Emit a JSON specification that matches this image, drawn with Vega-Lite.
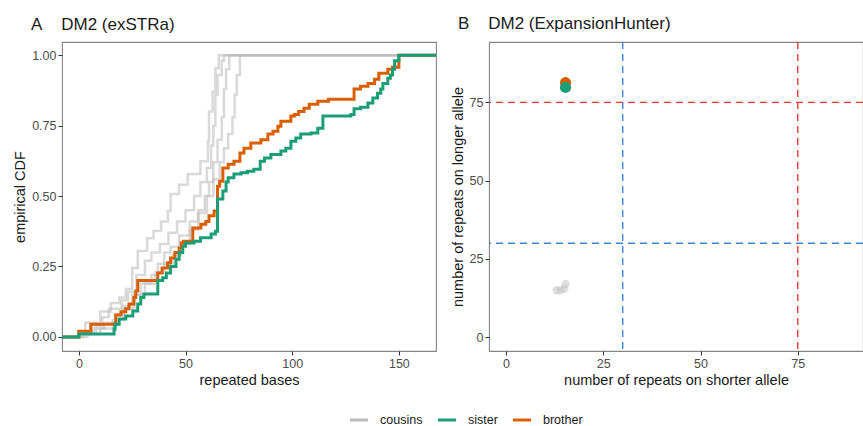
{
  "$schema": "https://vega.github.io/schema/vega-lite/v6.json",
  "background": "white",
  "padding": {"left": 12, "top": 14, "right": 0, "bottom": 0},
  "spacing": 12,
  "config": {
    "font": "Liberation Sans",
    "view": {"stroke": "#858585", "strokeWidth": 1.1},
    "axis": {"grid": false, "domain": false, "tickColor": "#333333", "tickSize": 4, "labelColor": "#4d4d4d", "labelFontSize": 12.5, "labelPadding": 2, "titleFontSize": 14.5, "titleFontWeight": "normal", "titleColor": "#1a1a1a", "titlePadding": 4},
    "title": {"fontSize": 17, "fontWeight": "normal", "anchor": "start", "frame": "group", "color": "#1a1a1a", "offset": 8},
    "legend": {"orient": "none", "legendX": 286, "legendY": 367, "direction": "horizontal", "gridAlign": "none", "labelFontSize": 12.5, "labelColor": "#1a1a1a", "symbolType": "stroke", "symbolStrokeWidth": 3, "symbolSize": 330, "labelOffset": 10, "columnPadding": 8, "symbolOpacity": 1}
  },
  "datasets": {
    "cdf": [
      {"who": "cousins", "id": "c1", "x": -7.9, "y": 0},
      {"who": "cousins", "id": "c1", "x": 0, "y": 0.02},
      {"who": "cousins", "id": "c1", "x": 3, "y": 0.05},
      {"who": "cousins", "id": "c1", "x": 10, "y": 0.09},
      {"who": "cousins", "id": "c1", "x": 15, "y": 0.12},
      {"who": "cousins", "id": "c1", "x": 19, "y": 0.14},
      {"who": "cousins", "id": "c1", "x": 22, "y": 0.17},
      {"who": "cousins", "id": "c1", "x": 25, "y": 0.245},
      {"who": "cousins", "id": "c1", "x": 27.6, "y": 0.305},
      {"who": "cousins", "id": "c1", "x": 32, "y": 0.35},
      {"who": "cousins", "id": "c1", "x": 35, "y": 0.376},
      {"who": "cousins", "id": "c1", "x": 38.5, "y": 0.41},
      {"who": "cousins", "id": "c1", "x": 41.7, "y": 0.447},
      {"who": "cousins", "id": "c1", "x": 43, "y": 0.507},
      {"who": "cousins", "id": "c1", "x": 47, "y": 0.54},
      {"who": "cousins", "id": "c1", "x": 51, "y": 0.578},
      {"who": "cousins", "id": "c1", "x": 57, "y": 0.624},
      {"who": "cousins", "id": "c1", "x": 60.5, "y": 0.695},
      {"who": "cousins", "id": "c1", "x": 61, "y": 0.8},
      {"who": "cousins", "id": "c1", "x": 62.7, "y": 0.87},
      {"who": "cousins", "id": "c1", "x": 64, "y": 0.954},
      {"who": "cousins", "id": "c1", "x": 65.6, "y": 1.0},
      {"who": "cousins", "id": "c1", "x": 167.4, "y": 1.0},
      {"who": "cousins", "id": "c2", "x": -7.9, "y": 0},
      {"who": "cousins", "id": "c2", "x": 0, "y": 0.02},
      {"who": "cousins", "id": "c2", "x": 8, "y": 0.04},
      {"who": "cousins", "id": "c2", "x": 11, "y": 0.07},
      {"who": "cousins", "id": "c2", "x": 14, "y": 0.1},
      {"who": "cousins", "id": "c2", "x": 20, "y": 0.13},
      {"who": "cousins", "id": "c2", "x": 23, "y": 0.16},
      {"who": "cousins", "id": "c2", "x": 27, "y": 0.22},
      {"who": "cousins", "id": "c2", "x": 31, "y": 0.27},
      {"who": "cousins", "id": "c2", "x": 34, "y": 0.3},
      {"who": "cousins", "id": "c2", "x": 38, "y": 0.33},
      {"who": "cousins", "id": "c2", "x": 42, "y": 0.37},
      {"who": "cousins", "id": "c2", "x": 46, "y": 0.41},
      {"who": "cousins", "id": "c2", "x": 50, "y": 0.45},
      {"who": "cousins", "id": "c2", "x": 54, "y": 0.5},
      {"who": "cousins", "id": "c2", "x": 57, "y": 0.55},
      {"who": "cousins", "id": "c2", "x": 60, "y": 0.6},
      {"who": "cousins", "id": "c2", "x": 62, "y": 0.68},
      {"who": "cousins", "id": "c2", "x": 63, "y": 0.75},
      {"who": "cousins", "id": "c2", "x": 64, "y": 0.86},
      {"who": "cousins", "id": "c2", "x": 65, "y": 0.93},
      {"who": "cousins", "id": "c2", "x": 67, "y": 0.98},
      {"who": "cousins", "id": "c2", "x": 68, "y": 1.0},
      {"who": "cousins", "id": "c2", "x": 167.4, "y": 1.0},
      {"who": "cousins", "id": "c3", "x": -7.9, "y": 0},
      {"who": "cousins", "id": "c3", "x": 2, "y": 0.01},
      {"who": "cousins", "id": "c3", "x": 6, "y": 0.03},
      {"who": "cousins", "id": "c3", "x": 12, "y": 0.05},
      {"who": "cousins", "id": "c3", "x": 17, "y": 0.08},
      {"who": "cousins", "id": "c3", "x": 21, "y": 0.11},
      {"who": "cousins", "id": "c3", "x": 25, "y": 0.15},
      {"who": "cousins", "id": "c3", "x": 29, "y": 0.19},
      {"who": "cousins", "id": "c3", "x": 34, "y": 0.22},
      {"who": "cousins", "id": "c3", "x": 37, "y": 0.26},
      {"who": "cousins", "id": "c3", "x": 40, "y": 0.3},
      {"who": "cousins", "id": "c3", "x": 43, "y": 0.32},
      {"who": "cousins", "id": "c3", "x": 47, "y": 0.36},
      {"who": "cousins", "id": "c3", "x": 52, "y": 0.41},
      {"who": "cousins", "id": "c3", "x": 56, "y": 0.45},
      {"who": "cousins", "id": "c3", "x": 59, "y": 0.5},
      {"who": "cousins", "id": "c3", "x": 61, "y": 0.55},
      {"who": "cousins", "id": "c3", "x": 63, "y": 0.62},
      {"who": "cousins", "id": "c3", "x": 65, "y": 0.7},
      {"who": "cousins", "id": "c3", "x": 67, "y": 0.78},
      {"who": "cousins", "id": "c3", "x": 68, "y": 0.88},
      {"who": "cousins", "id": "c3", "x": 69, "y": 0.95},
      {"who": "cousins", "id": "c3", "x": 70.5, "y": 1.0},
      {"who": "cousins", "id": "c3", "x": 167.4, "y": 1.0},
      {"who": "cousins", "id": "c4", "x": -7.9, "y": 0},
      {"who": "cousins", "id": "c4", "x": 4, "y": 0.01},
      {"who": "cousins", "id": "c4", "x": 10, "y": 0.03},
      {"who": "cousins", "id": "c4", "x": 16, "y": 0.06},
      {"who": "cousins", "id": "c4", "x": 21, "y": 0.1},
      {"who": "cousins", "id": "c4", "x": 26, "y": 0.15},
      {"who": "cousins", "id": "c4", "x": 31, "y": 0.19},
      {"who": "cousins", "id": "c4", "x": 36, "y": 0.23},
      {"who": "cousins", "id": "c4", "x": 40, "y": 0.26},
      {"who": "cousins", "id": "c4", "x": 44, "y": 0.29},
      {"who": "cousins", "id": "c4", "x": 48, "y": 0.33},
      {"who": "cousins", "id": "c4", "x": 52, "y": 0.38},
      {"who": "cousins", "id": "c4", "x": 56, "y": 0.44},
      {"who": "cousins", "id": "c4", "x": 60, "y": 0.5},
      {"who": "cousins", "id": "c4", "x": 63, "y": 0.56},
      {"who": "cousins", "id": "c4", "x": 66, "y": 0.62},
      {"who": "cousins", "id": "c4", "x": 68, "y": 0.67},
      {"who": "cousins", "id": "c4", "x": 70, "y": 0.72},
      {"who": "cousins", "id": "c4", "x": 72, "y": 0.78},
      {"who": "cousins", "id": "c4", "x": 73, "y": 0.86},
      {"who": "cousins", "id": "c4", "x": 74, "y": 0.93},
      {"who": "cousins", "id": "c4", "x": 75.5, "y": 1.0},
      {"who": "cousins", "id": "c4", "x": 167.4, "y": 1.0},
      {"who": "brother", "id": "b", "x": -7.9, "y": 0},
      {"who": "brother", "id": "b", "x": 0, "y": 0.02},
      {"who": "brother", "id": "b", "x": 5.6, "y": 0.045},
      {"who": "brother", "id": "b", "x": 17.3, "y": 0.078},
      {"who": "brother", "id": "b", "x": 19.7, "y": 0.089},
      {"who": "brother", "id": "b", "x": 22, "y": 0.1},
      {"who": "brother", "id": "b", "x": 23.5, "y": 0.117},
      {"who": "brother", "id": "b", "x": 25.8, "y": 0.14},
      {"who": "brother", "id": "b", "x": 26.7, "y": 0.163},
      {"who": "brother", "id": "b", "x": 27.6, "y": 0.2},
      {"who": "brother", "id": "b", "x": 37, "y": 0.227},
      {"who": "brother", "id": "b", "x": 39, "y": 0.245},
      {"who": "brother", "id": "b", "x": 41.6, "y": 0.263},
      {"who": "brother", "id": "b", "x": 43, "y": 0.28},
      {"who": "brother", "id": "b", "x": 45, "y": 0.3},
      {"who": "brother", "id": "b", "x": 47, "y": 0.316},
      {"who": "brother", "id": "b", "x": 48, "y": 0.333},
      {"who": "brother", "id": "b", "x": 49, "y": 0.34},
      {"who": "brother", "id": "b", "x": 53.4, "y": 0.387},
      {"who": "brother", "id": "b", "x": 57.2, "y": 0.4},
      {"who": "brother", "id": "b", "x": 59.5, "y": 0.41},
      {"who": "brother", "id": "b", "x": 61, "y": 0.43},
      {"who": "brother", "id": "b", "x": 63.4, "y": 0.447},
      {"who": "brother", "id": "b", "x": 65, "y": 0.535},
      {"who": "brother", "id": "b", "x": 66, "y": 0.553},
      {"who": "brother", "id": "b", "x": 67.5, "y": 0.6},
      {"who": "brother", "id": "b", "x": 70, "y": 0.613},
      {"who": "brother", "id": "b", "x": 72.7, "y": 0.624},
      {"who": "brother", "id": "b", "x": 75.5, "y": 0.653},
      {"who": "brother", "id": "b", "x": 77.4, "y": 0.67},
      {"who": "brother", "id": "b", "x": 80.6, "y": 0.688},
      {"who": "brother", "id": "b", "x": 85.3, "y": 0.7},
      {"who": "brother", "id": "b", "x": 88.6, "y": 0.72},
      {"who": "brother", "id": "b", "x": 91, "y": 0.73},
      {"who": "brother", "id": "b", "x": 93.3, "y": 0.748},
      {"who": "brother", "id": "b", "x": 94.7, "y": 0.766},
      {"who": "brother", "id": "b", "x": 99.4, "y": 0.784},
      {"who": "brother", "id": "b", "x": 101, "y": 0.79},
      {"who": "brother", "id": "b", "x": 103, "y": 0.8},
      {"who": "brother", "id": "b", "x": 105.5, "y": 0.812},
      {"who": "brother", "id": "b", "x": 108, "y": 0.826},
      {"who": "brother", "id": "b", "x": 112, "y": 0.837},
      {"who": "brother", "id": "b", "x": 117, "y": 0.844},
      {"who": "brother", "id": "b", "x": 129, "y": 0.88},
      {"who": "brother", "id": "b", "x": 132, "y": 0.89},
      {"who": "brother", "id": "b", "x": 135.5, "y": 0.9},
      {"who": "brother", "id": "b", "x": 138.6, "y": 0.915},
      {"who": "brother", "id": "b", "x": 140.6, "y": 0.936},
      {"who": "brother", "id": "b", "x": 144.8, "y": 0.95},
      {"who": "brother", "id": "b", "x": 147, "y": 0.957},
      {"who": "brother", "id": "b", "x": 150, "y": 1.0},
      {"who": "brother", "id": "b", "x": 167.4, "y": 1.0},
      {"who": "sister", "id": "s", "x": -7.9, "y": 0},
      {"who": "sister", "id": "s", "x": 0, "y": 0.01},
      {"who": "sister", "id": "s", "x": 16.5, "y": 0.028},
      {"who": "sister", "id": "s", "x": 17, "y": 0.045},
      {"who": "sister", "id": "s", "x": 18.9, "y": 0.064},
      {"who": "sister", "id": "s", "x": 22, "y": 0.074},
      {"who": "sister", "id": "s", "x": 25.3, "y": 0.092},
      {"who": "sister", "id": "s", "x": 27.6, "y": 0.117},
      {"who": "sister", "id": "s", "x": 29, "y": 0.14},
      {"who": "sister", "id": "s", "x": 30.5, "y": 0.152},
      {"who": "sister", "id": "s", "x": 37, "y": 0.2},
      {"who": "sister", "id": "s", "x": 39.3, "y": 0.21},
      {"who": "sister", "id": "s", "x": 41, "y": 0.227},
      {"who": "sister", "id": "s", "x": 43, "y": 0.25},
      {"who": "sister", "id": "s", "x": 45.5, "y": 0.276},
      {"who": "sister", "id": "s", "x": 47, "y": 0.3},
      {"who": "sister", "id": "s", "x": 48.7, "y": 0.322},
      {"who": "sister", "id": "s", "x": 50, "y": 0.333},
      {"who": "sister", "id": "s", "x": 54, "y": 0.34},
      {"who": "sister", "id": "s", "x": 57, "y": 0.352},
      {"who": "sister", "id": "s", "x": 62, "y": 0.365},
      {"who": "sister", "id": "s", "x": 64, "y": 0.375},
      {"who": "sister", "id": "s", "x": 65, "y": 0.49},
      {"who": "sister", "id": "s", "x": 67.5, "y": 0.518},
      {"who": "sister", "id": "s", "x": 69, "y": 0.55},
      {"who": "sister", "id": "s", "x": 70, "y": 0.565},
      {"who": "sister", "id": "s", "x": 72.7, "y": 0.578},
      {"who": "sister", "id": "s", "x": 76, "y": 0.583},
      {"who": "sister", "id": "s", "x": 79, "y": 0.588},
      {"who": "sister", "id": "s", "x": 82, "y": 0.595},
      {"who": "sister", "id": "s", "x": 85, "y": 0.624},
      {"who": "sister", "id": "s", "x": 87, "y": 0.635},
      {"who": "sister", "id": "s", "x": 90, "y": 0.648},
      {"who": "sister", "id": "s", "x": 94.7, "y": 0.66},
      {"who": "sister", "id": "s", "x": 97, "y": 0.67},
      {"who": "sister", "id": "s", "x": 99.4, "y": 0.695},
      {"who": "sister", "id": "s", "x": 101.7, "y": 0.706},
      {"who": "sister", "id": "s", "x": 104, "y": 0.72},
      {"who": "sister", "id": "s", "x": 108.8, "y": 0.724},
      {"who": "sister", "id": "s", "x": 112, "y": 0.741},
      {"who": "sister", "id": "s", "x": 114.4, "y": 0.784},
      {"who": "sister", "id": "s", "x": 127.5, "y": 0.79},
      {"who": "sister", "id": "s", "x": 129, "y": 0.81},
      {"who": "sister", "id": "s", "x": 132, "y": 0.815},
      {"who": "sister", "id": "s", "x": 135.5, "y": 0.83},
      {"who": "sister", "id": "s", "x": 137.8, "y": 0.848},
      {"who": "sister", "id": "s", "x": 140, "y": 0.865},
      {"who": "sister", "id": "s", "x": 141.5, "y": 0.88},
      {"who": "sister", "id": "s", "x": 142.5, "y": 0.9},
      {"who": "sister", "id": "s", "x": 144.8, "y": 0.918},
      {"who": "sister", "id": "s", "x": 146, "y": 0.93},
      {"who": "sister", "id": "s", "x": 147, "y": 0.95},
      {"who": "sister", "id": "s", "x": 148, "y": 0.98},
      {"who": "sister", "id": "s", "x": 150, "y": 1.0},
      {"who": "sister", "id": "s", "x": 167.4, "y": 1.0}
    ],
    "eh": [
      {"who": "cousins", "shorter": 13, "longer": 15},
      {"who": "cousins", "shorter": 14, "longer": 15},
      {"who": "cousins", "shorter": 15, "longer": 15.5},
      {"who": "cousins", "shorter": 15.3, "longer": 17},
      {"who": "brother", "shorter": 15.3, "longer": 81.3},
      {"who": "sister", "shorter": 15.3, "longer": 79.8}
    ],
    "thresholds": [
      {"kind": "normal", "value": 30},
      {"kind": "expanded", "value": 75}
    ]
  },
  "hconcat": [
    {
      "width": 374,
      "height": 309,
      "title": {"text": "A\u00a0\u00a0\u00a0\u00a0DM2 (exSTRa)", "dx": -31},
      "data": {"name": "cdf"},
      "encoding": {
        "x": {"field": "x", "type": "quantitative", "scale": {"domain": [-7.9, 167.4], "nice": false, "zero": false}, "axis": {"values": [0, 50, 100, 150], "title": "repeated bases"}},
        "y": {"field": "y", "type": "quantitative", "scale": {"domain": [-0.05, 1.047], "nice": false, "zero": false}, "axis": {"values": [0, 0.25, 0.5, 0.75, 1], "format": ".2f", "title": "empirical CDF"}},
        "detail": {"field": "id"},
        "color": {"field": "who", "type": "nominal", "scale": {"domain": ["cousins", "sister", "brother"], "range": ["#bababa", "#1b9e77", "#d95f02"]}, "legend": {"title": null}}
      },
      "layer": [
        {"transform": [{"filter": "datum.who === 'cousins'"}], "mark": {"type": "line", "interpolate": "step-after", "strokeWidth": 2.5, "opacity": 0.55, "clip": true}},
        {"transform": [{"filter": "datum.who === 'brother'"}], "mark": {"type": "line", "interpolate": "step-after", "strokeWidth": 3, "clip": true}},
        {"transform": [{"filter": "datum.who === 'sister'"}], "mark": {"type": "line", "interpolate": "step-after", "strokeWidth": 3, "clip": true}}
      ]
    },
    {
      "width": 374,
      "height": 309,
      "title": {"text": "B\u00a0\u00a0\u00a0\u00a0DM2 (ExpansionHunter)", "dx": -31},
      "layer": [
        {
          "data": {"name": "thresholds"},
          "transform": [{"filter": "datum.kind === 'normal'"}],
          "mark": {"type": "rule", "color": "#3d85d8", "strokeWidth": 1.4, "strokeDash": [7, 5]},
          "encoding": {"x": {"field": "value", "type": "quantitative", "scale": {"domain": [-4.37, 91.77], "nice": false, "zero": false}, "axis": {"values": [0, 25, 50, 75], "title": "number of repeats on shorter allele"}}}
        },
        {
          "data": {"name": "thresholds"},
          "transform": [{"filter": "datum.kind === 'normal'"}],
          "mark": {"type": "rule", "color": "#3d85d8", "strokeWidth": 1.4, "strokeDash": [7, 5]},
          "encoding": {"y": {"field": "value", "type": "quantitative", "scale": {"domain": [-4.4, 94.3], "nice": false, "zero": false}, "axis": {"values": [0, 25, 50, 75], "title": "number of repeats on longer allele"}}}
        },
        {
          "data": {"name": "thresholds"},
          "transform": [{"filter": "datum.kind === 'expanded'"}],
          "mark": {"type": "rule", "color": "#ea3a3a", "strokeWidth": 1.4, "strokeDash": [7, 5]},
          "encoding": {"x": {"field": "value", "type": "quantitative", "scale": {"domain": [-4.37, 91.77], "nice": false, "zero": false}, "axis": {"values": [0, 25, 50, 75], "title": "number of repeats on shorter allele"}}}
        },
        {
          "data": {"name": "thresholds"},
          "transform": [{"filter": "datum.kind === 'expanded'"}],
          "mark": {"type": "rule", "color": "#ea3a3a", "strokeWidth": 1.4, "strokeDash": [7, 5]},
          "encoding": {"y": {"field": "value", "type": "quantitative", "scale": {"domain": [-4.4, 94.3], "nice": false, "zero": false}, "axis": {"values": [0, 25, 50, 75], "title": "number of repeats on longer allele"}}}
        },
        {
          "data": {"name": "eh"},
          "transform": [{"filter": "datum.who === 'cousins'"}],
          "mark": {"type": "circle", "size": 70, "opacity": 0.45},
          "encoding": {
            "x": {"field": "shorter", "type": "quantitative", "scale": {"domain": [-4.37, 91.77], "nice": false, "zero": false}, "axis": {"values": [0, 25, 50, 75], "title": "number of repeats on shorter allele"}},
            "y": {"field": "longer", "type": "quantitative", "scale": {"domain": [-4.4, 94.3], "nice": false, "zero": false}, "axis": {"values": [0, 25, 50, 75], "title": "number of repeats on longer allele"}},
            "color": {"field": "who", "type": "nominal", "scale": {"domain": ["cousins", "sister", "brother"], "range": ["#bababa", "#1b9e77", "#d95f02"]}, "legend": {"title": null}}
          }
        },
        {
          "data": {"name": "eh"},
          "transform": [{"filter": "datum.who !== 'cousins'"}],
          "mark": {"type": "circle", "size": 125, "opacity": 1},
          "encoding": {
            "x": {"field": "shorter", "type": "quantitative", "scale": {"domain": [-4.37, 91.77], "nice": false, "zero": false}, "axis": {"values": [0, 25, 50, 75], "title": "number of repeats on shorter allele"}},
            "y": {"field": "longer", "type": "quantitative", "scale": {"domain": [-4.4, 94.3], "nice": false, "zero": false}, "axis": {"values": [0, 25, 50, 75], "title": "number of repeats on longer allele"}},
            "color": {"field": "who", "type": "nominal", "scale": {"domain": ["cousins", "sister", "brother"], "range": ["#bababa", "#1b9e77", "#d95f02"]}, "legend": {"title": null}},
            "order": {"field": "who", "sort": "ascending"}
          }
        }
      ]
    }
  ],
  "resolve": {"scale": {"color": "shared"}}
}
